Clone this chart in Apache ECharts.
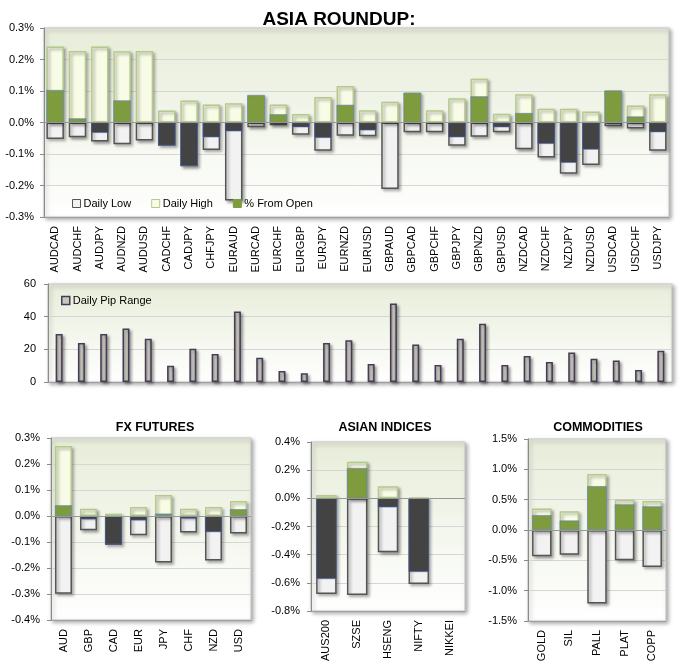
<!DOCTYPE html>
<html><head><meta charset="utf-8">
<script src="https://cdn.jsdelivr.net/npm/echarts@6/dist/echarts.min.js"></script>
<style>html,body{margin:0;padding:0;background:#fff}#c{width:680px;height:671px}</style>
</head><body><div id="c"></div>
<script>
const pairs = ['AUDCAD','AUDCHF','AUDJPY','AUDNZD','AUDUSD','CADCHF','CADJPY','CHFJPY','EURAUD','EURCAD','EURCHF','EURGBP','EURJPY','EURNZD','EURUSD','GBPAUD','GBPCAD','GBPCHF','GBPJPY','GBPNZD','GBPUSD','NZDCAD','NZDCHF','NZDJPY','NZDUSD','USDCAD','USDCHF','USDJPY'];
const pairHigh = [0.241,0.227,0.241,0.226,0.227,0.038,0.070,0.057,0.061,0.088,0.057,0.027,0.081,0.116,0.039,0.066,0.095,0.039,0.077,0.139,0.028,0.090,0.044,0.044,0.035,0.102,0.054,0.090];
const pairOpen = [0.103,0.013,-0.033,0.070,0,-0.073,-0.138,-0.047,-0.028,0.086,0.026,-0.015,-0.049,0.056,-0.025,0,0.094,0,-0.047,0.083,-0.015,0.030,-0.068,-0.128,-0.086,0.101,0.019,-0.031];
const pairLow = [-0.052,-0.047,-0.060,-0.069,-0.057,-0.074,-0.139,-0.087,-0.248,-0.015,-0.009,-0.039,-0.090,-0.042,-0.044,-0.211,-0.031,-0.031,-0.074,-0.045,-0.031,-0.085,-0.111,-0.163,-0.135,-0.012,-0.019,-0.090];
const pipRange = [29.4,23.9,29.4,32.7,26.5,10.0,20.4,17.1,43.1,14.9,6.7,5.3,23.9,25.5,11.0,48.0,22.9,10.4,26.5,35.7,10.4,15.9,12.2,18.0,14.3,13.1,7.3,19.2];

const fxCats = ['AUD','GBP','CAD','EUR','JPY','CHF','NZD','USD'];
const fxHigh = [0.269,0.028,0.009,0.035,0.081,0.028,0.035,0.058];
const fxOpen = [0.041,-0.013,-0.109,-0.017,0.009,-0.010,-0.062,0.026];
const fxLow = [-0.299,-0.055,-0.112,-0.074,-0.179,-0.063,-0.171,-0.067];

const idxCats = ['AUS200','SZSE','HSENG','NIFTY','NIKKEI'];
const idxHigh = [0.024,0.260,0.085,0.006,null];
const idxOpen = [-0.573,0.215,-0.064,-0.523,null];
const idxLow = [-0.679,-0.686,-0.383,-0.608,null];

const comCats = ['GOLD','SIL','PALL','PLAT','COPP'];
const comHigh = [0.356,0.311,0.922,0.500,0.478];
const comOpen = [0.244,0.156,0.722,0.422,0.389];
const comLow = [-0.433,-0.406,-1.211,-0.500,-0.611];

const FONT = 'Liberation Sans, Arial, sans-serif';
const GREEN = '#7e9c3e', DARK = '#434343';
const bg = {type:'linear',x:0,y:0,x2:0,y2:1,colorStops:[{offset:0,color:'#e7edd9'},{offset:1,color:'#ffffff'}]};
function grid(l,t,w,h){
  return {left:l,top:t,width:w,height:h,show:true,borderColor:'#c2c2c2',borderWidth:1,backgroundColor:bg,
    shadowColor:'rgba(0,0,0,0.35)',shadowBlur:4,shadowOffsetX:2,shadowOffsetY:2};
}
function pct(v,d){ if(Math.abs(v)<1e-9) v=0; return v.toFixed(d)+'%'; }
function xAx(gi,data,showLabel){
  return {type:'category',gridIndex:gi,data:data,
    axisLine:{show:true,onZero:false,lineStyle:{color:'#a0a0a0'}},axisTick:{show:false},
    axisLabel:{show:showLabel,rotate:90,interval:0,margin:9,fontSize:11,color:'#000',fontFamily:FONT}};
}
function yAx(gi,min,max,iv,fmt,margin){
  return {type:'value',gridIndex:gi,min:min,max:max,interval:iv,
    axisLine:{show:true,lineStyle:{color:'#8a8a8a'}},axisTick:{show:true,length:4,lineStyle:{color:'#8a8a8a'}},
    splitLine:{lineStyle:{color:'#d6d6d6'}},
    axisLabel:{formatter:fmt,fontSize:11,color:'#000',fontFamily:FONT,margin:margin}};
}
const shadow = {shadowColor:'rgba(0,0,0,0.35)',shadowBlur:3,shadowOffsetX:2,shadowOffsetY:2};
function triple(gi,low,high,open,bw){
  return [
    {name:'Daily Low',type:'bar',xAxisIndex:gi,yAxisIndex:gi,data:low,barWidth:bw,barGap:'-100%',
      itemStyle:Object.assign({color:'#f2f2f2',borderColor:'#555555',borderWidth:1.5},shadow)},
    {name:'Daily High',type:'bar',xAxisIndex:gi,yAxisIndex:gi,data:high,barWidth:bw,barGap:'-100%',
      itemStyle:Object.assign({color:'#f8fce6',borderColor:'#b4ca8b',borderWidth:1.5},shadow)},
    {name:'% From Open',type:'bar',xAxisIndex:gi,yAxisIndex:gi,data:open,barWidth:bw,barGap:'-100%',
      itemStyle:{color:function(p){return p.value>=0?GREEN:DARK;},borderColor:function(p){return p.value>=0?'#7a9a3a':'#333333';},borderWidth:0.5},
      markLine:{silent:true,symbol:['none','none'],label:{show:false},data:[{yAxis:0}],
        lineStyle:{color:'#979797',type:'solid',width:1}}}
  ];
}

const chart = echarts.init(document.getElementById('c'),null,{renderer:'canvas'});
const series = [].concat(
  triple(0,pairLow,pairHigh,pairOpen,17.5),
  [{name:'Daily Pip Range',type:'bar',xAxisIndex:1,yAxisIndex:1,data:pipRange,barWidth:7,
    itemStyle:Object.assign({color:{type:'linear',x:0,y:0,x2:1,y2:0,colorStops:[{offset:0,color:'#8e8e80'},{offset:0.5,color:'#dcdcd2'},{offset:1,color:'#8e8e80'}]},
      borderColor:'#463c58',borderWidth:1.5},shadow)}],
  triple(2,fxLow,fxHigh,fxOpen,17),
  triple(3,idxLow,idxHigh,idxOpen,20.5),
  triple(4,comLow,comHigh,comOpen,19.5)
);
chart.setOption({
  animation:false,
  textStyle:{fontFamily:FONT},
  title:[
    {text:'ASIA ROUNDUP:',left:334,top:5,textAlign:'center',textStyle:{fontSize:19,fontWeight:'bold',color:'#000',fontFamily:FONT}},
    {text:'FX FUTURES',left:150,top:416,textAlign:'center',textStyle:{fontSize:12.5,fontWeight:'bold',color:'#000',fontFamily:FONT}},
    {text:'ASIAN INDICES',left:380,top:416,textAlign:'center',textStyle:{fontSize:12.5,fontWeight:'bold',color:'#000',fontFamily:FONT}},
    {text:'COMMODITIES',left:593,top:416,textAlign:'center',textStyle:{fontSize:12.5,fontWeight:'bold',color:'#000',fontFamily:FONT}}
  ],
  legend:[
    {left:67,top:193,itemWidth:8,itemHeight:8,itemGap:20,selectedMode:false,
      textStyle:{fontSize:11,color:'#000',fontFamily:FONT,padding:[0,0,0,-2]},
      data:[
        {name:'Daily Low',icon:'rect',itemStyle:{color:'#f2f2f2',borderColor:'#555',borderWidth:1}},
        {name:'Daily High',icon:'rect',itemStyle:{color:'#f8fce6',borderColor:'#b4ca8b',borderWidth:1}},
        {name:'% From Open',icon:'rect',itemStyle:{color:GREEN,borderColor:GREEN,borderWidth:1}}
      ]},
    {left:56,top:290,itemWidth:8,itemHeight:8,selectedMode:false,
      textStyle:{fontSize:11,color:'#000',fontFamily:FONT,padding:[0,0,0,-2]},
      data:[{name:'Daily Pip Range',icon:'rect',itemStyle:{color:'#c8c8bc',borderColor:'#463c58',borderWidth:1.5}}]}
  ],
  grid:[grid(44,28,625,189),grid(48,284,624,98),grid(51,438,200,182),grid(311,442,154,169),grid(528,439,138,182)],
  xAxis:[xAx(0,pairs,true),xAx(1,pairs,false),xAx(2,fxCats,true),xAx(3,idxCats,true),xAx(4,comCats,true)],
  yAxis:[
    yAx(0,-0.3,0.3,0.1,v=>pct(v,1),10),
    yAx(1,0,60,20,v=>String(Math.round(v)),12),
    yAx(2,-0.4,0.3,0.1,v=>pct(v,1),11),
    yAx(3,-0.8,0.4,0.2,v=>pct(v,1),11),
    yAx(4,-1.5,1.5,0.5,v=>pct(v,1),11)
  ],
  series:series
});
</script></body></html>
